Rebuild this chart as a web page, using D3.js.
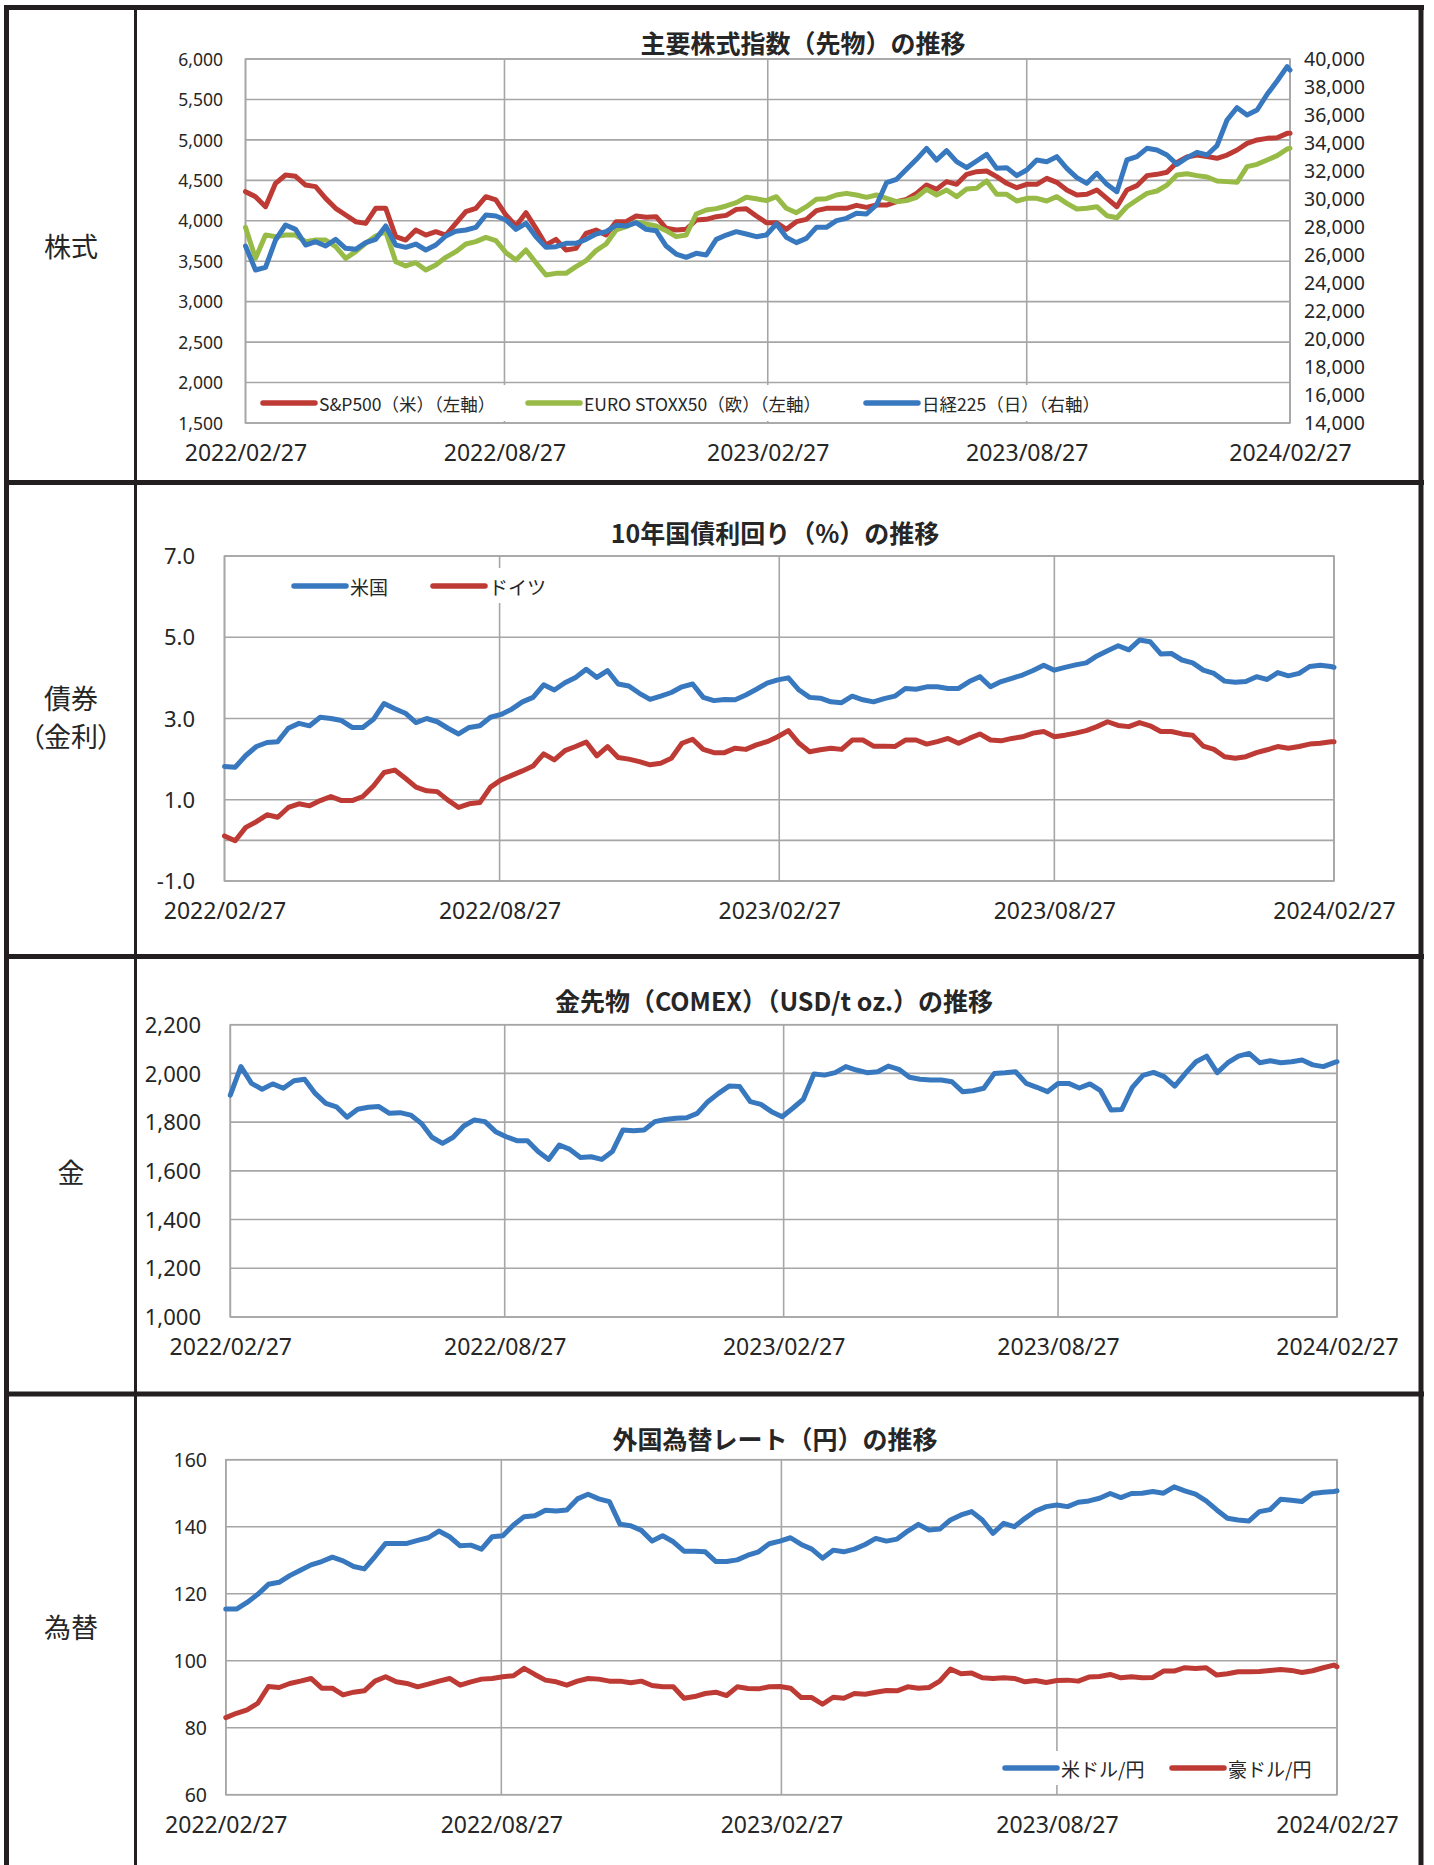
<!DOCTYPE html>
<html><head><meta charset="utf-8">
<script src="https://cdn.jsdelivr.net/npm/d3@7"></script>
<style>
html,body{margin:0;padding:0;background:#fff;}
svg{display:block;}
text{font-family:"Noto Sans CJK JP","Noto Sans",sans-serif;fill:#262626;}
.num{font-family:"Noto Sans","Noto Sans CJK JP",sans-serif;}
</style></head><body>
<svg id="chart" width="1434" height="1865"></svg>
<script>
// ---------------- DATA ----------------
const startDate = "2022/02/27";
const endDate = "2024/02/27";
const stepDays = 7; // weekly readings, last value at endDate
const xTickLabels = ["2022/02/27","2022/08/27","2023/02/27","2023/08/27","2024/02/27"];

const rowLabels = [["株式"],["債券","（金利）"],["金"],["為替"]];
const titles = ["主要株式指数（先物）の推移","10年国債利回り（%）の推移","金先物（COMEX）（USD/t oz.）の推移","外国為替レート（円）の推移"];

// Panel 1: stock index futures
const stockNames = ["S&P500（米）（左軸）","EURO STOXX50（欧）（左軸）","日経225（日）（右軸）"];
const sp500 = [4360,4298,4174,4463,4566,4550,4442,4422,4277,4154,
  4071,3989,3968,4154,4154,3804,3762,3886,3824,3865,
  3824,3968,4113,4154,4298,4257,4071,3935,4100,3906,
  3700,3770,3639,3659,3845,3886,3824,3989,3989,4059,
  4043,4051,3907,3886,3894,4010,4018,4051,4067,4141,
  4150,4059,3977,3977,3894,3989,4018,4125,4154,4154,
  4154,4191,4166,4195,4195,4236,4265,4339,4442,4389,
  4484,4451,4574,4607,4615,4545,4463,4409,4451,4451,
  4525,4475,4381,4319,4327,4381,4277,4174,4381,4434,
  4558,4574,4599,4722,4788,4813,4793,4772,4813,4875,
  4957,4999,5019,5027,5081,5081];
const stoxx50 = [3919,3536,3824,3804,3824,3824,3742,3762,3762,3680,
  3536,3618,3721,3812,3865,3494,3441,3482,3391,3453,
  3548,3618,3713,3742,3795,3754,3606,3515,3639,3482,
  3330,3350,3350,3433,3507,3631,3713,3886,3927,3985,
  3960,3935,3878,3804,3824,4084,4133,4150,4183,4224,
  4290,4273,4249,4298,4154,4100,4174,4265,4273,4319,
  4339,4319,4290,4319,4277,4236,4249,4290,4389,4319,
  4380,4298,4393,4401,4492,4327,4327,4245,4277,4277,
  4245,4298,4216,4146,4154,4174,4063,4038,4174,4257,
  4339,4368,4442,4566,4582,4558,4541,4492,4484,4475,
  4669,4698,4751,4805,4887,4896];
const nikkei225 = [26642,24928,25119,27071,28142,27833,26714,26952,26642,27119,
  26476,26404,26881,27119,28071,26714,26547,26785,26357,26714,
  27357,27690,27785,27976,28857,28785,28500,27833,28261,27309,
  26547,26595,26833,26833,27119,27500,27666,28119,28071,28309,
  27833,27738,26642,26071,25833,26119,26000,27119,27428,27666,
  27500,27309,27428,28214,27261,26881,27190,27976,27976,28452,
  28619,28976,28928,29571,31166,31404,32119,32833,33619,32785,
  33452,32667,32238,32714,33190,32190,32238,31667,32071,32786,
  32666,33024,32190,31524,31119,31833,31048,30524,32786,33024,
  33619,33500,33143,32476,32952,33333,33143,33809,35643,36524,
  36000,36357,37476,38428,39452,39214];
const stockLeftTicks = [1500,2000,2500,3000,3500,4000,4500,5000,5500,6000];
const stockRightTicks = [14000,16000,18000,20000,22000,24000,26000,28000,30000,32000,34000,36000,38000,40000];

// Panel 2: 10y government bond yields (%)
const bondNames = ["米国","ドイツ"];
const usYield = [1.82,1.80,2.09,2.31,2.41,2.43,2.76,2.88,2.82,3.03,
  3.00,2.95,2.78,2.78,2.98,3.37,3.24,3.13,2.90,3.00,
  2.92,2.76,2.62,2.78,2.82,3.03,3.10,3.23,3.41,3.52,
  3.83,3.70,3.88,4.01,4.21,4.01,4.18,3.85,3.80,3.62,
  3.47,3.55,3.64,3.78,3.85,3.52,3.44,3.47,3.46,3.58,
  3.72,3.87,3.95,4.00,3.70,3.52,3.50,3.41,3.39,3.55,
  3.46,3.41,3.49,3.55,3.74,3.72,3.78,3.78,3.74,3.74,
  3.91,4.03,3.78,3.91,3.99,4.07,4.18,4.31,4.19,4.26,
  4.32,4.37,4.54,4.67,4.79,4.69,4.93,4.89,4.59,4.60,
  4.44,4.37,4.19,4.11,3.92,3.89,3.91,4.03,3.96,4.13,
  4.05,4.11,4.28,4.31,4.28,4.26];
const deYield = [0.11,-0.01,0.32,0.46,0.63,0.57,0.81,0.90,0.85,0.98,
  1.08,0.98,0.98,1.08,1.34,1.67,1.73,1.53,1.31,1.22,
  1.20,0.99,0.81,0.90,0.93,1.31,1.49,1.60,1.71,1.83,
  2.13,1.98,2.21,2.31,2.42,2.08,2.31,2.04,2.00,1.94,
  1.86,1.90,2.02,2.39,2.49,2.24,2.16,2.16,2.27,2.24,
  2.35,2.43,2.55,2.70,2.39,2.18,2.23,2.27,2.24,2.47,
  2.47,2.32,2.32,2.31,2.47,2.47,2.37,2.43,2.51,2.39,
  2.51,2.62,2.47,2.45,2.51,2.55,2.64,2.68,2.55,2.59,
  2.64,2.70,2.80,2.92,2.83,2.80,2.90,2.82,2.68,2.68,
  2.62,2.59,2.32,2.24,2.06,2.02,2.06,2.16,2.23,2.31,
  2.27,2.31,2.37,2.39,2.43,2.43];
const bondTicks = [-1,1,3,5,7];

// Panel 3: gold futures
const gold = [1911,2028,1959,1935,1957,1939,1970,1976,1918,1877,
  1863,1820,1853,1861,1864,1836,1839,1829,1795,1738,
  1713,1738,1784,1809,1802,1761,1740,1724,1724,1679,
  1647,1706,1688,1655,1658,1647,1679,1768,1765,1768,
  1802,1811,1816,1818,1836,1884,1918,1948,1946,1884,
  1873,1843,1822,1857,1894,1998,1993,2003,2028,2014,
  2003,2007,2030,2017,1984,1976,1973,1973,1966,1925,
  1929,1939,2000,2003,2007,1959,1943,1925,1959,1959,
  1940,1957,1929,1850,1852,1943,1992,2004,1987,1948,
  2000,2048,2071,2003,2044,2071,2082,2044,2052,2044,
  2048,2055,2035,2028,2044,2048];
const goldTicks = [1000,1200,1400,1600,1800,2000,2200];

// Panel 4: FX rates
const fxNames = ["米ドル/円","豪ドル/円"];
const usdjpy = [115.4,115.4,117.4,119.8,122.8,123.4,125.4,127.0,128.6,129.6,
  130.9,129.8,128.1,127.4,131.1,135.0,135.0,135.0,135.9,136.7,
  138.7,137.0,134.3,134.5,133.3,137.0,137.3,140.5,143.0,143.3,
  144.9,144.7,145.0,148.3,149.7,148.3,147.5,140.7,140.3,138.9,
  135.7,137.3,135.5,132.7,132.7,132.5,129.6,129.6,130.1,131.5,
  132.5,134.9,135.7,136.7,134.7,133.3,130.6,133.0,132.5,133.3,
  134.7,136.5,135.7,136.3,138.7,140.7,139.0,139.3,142.0,143.5,
  144.5,142.0,138.0,141.0,140.0,142.5,144.7,146.0,146.5,146.0,
  147.3,147.7,148.5,149.9,148.7,149.9,150.0,150.5,150.0,151.9,
  150.7,149.7,147.7,145.0,142.5,142.0,141.7,144.5,145.1,148.2,
  147.9,147.5,149.9,150.3,150.5,150.7];
const audjpy = [83.0,84.3,85.3,87.3,92.3,92.0,93.2,93.9,94.7,91.8,
  91.8,89.8,90.6,91.0,93.9,95.2,93.7,93.2,92.2,93.0,
  93.9,94.7,92.7,93.7,94.5,94.7,95.2,95.5,97.7,95.9,
  94.2,93.7,92.7,93.9,94.7,94.5,93.9,93.9,93.4,93.9,
  92.6,92.2,92.2,88.8,89.3,90.2,90.6,89.6,92.2,91.7,
  91.6,92.2,92.3,91.8,89.0,89.0,87.0,89.1,88.8,90.2,
  90.0,90.6,91.1,91.0,92.2,91.8,92.0,93.9,97.5,96.1,
  96.3,94.9,94.7,94.9,94.7,93.7,94.1,93.5,94.1,94.2,
  93.9,95.1,95.3,95.9,94.9,95.2,94.9,95.0,96.9,96.9,
  97.9,97.7,97.9,95.7,96.1,96.7,96.7,96.8,97.1,97.4,
  97.1,96.5,97.0,97.9,98.7,98.2];
const fxTicks = [60,80,100,120,140,160];

// ---------------- RENDER ----------------
const BLUE = "#3878BF", RED = "#BE3B35", GREEN = "#98BB47";
const GRID = "#a6a6a6", BORDER = "#231f20";
const parse = d3.utcParse("%Y/%m/%d");
const t0 = parse(startDate), t1 = parse(endDate);
function withDates(vals){
  return vals.map((v,i)=>({date: i===vals.length-1 ? t1 : d3.utcDay.offset(t0, i*stepDays), v}));
}
const svg = d3.select("#chart");
svg.append("rect").attr("width",1434).attr("height",1865).attr("fill","#fff");

function panel(o){
  const g = svg.append("g");
  const x = d3.scaleUtc().domain([t0,t1]).range([o.left,o.right]);
  const y = d3.scaleLinear().domain(o.yDomain).range([o.bottom,o.top]);
  const hLines = o.gridValues || o.yTicks;
  g.selectAll(null).data(hLines).join("line")
    .attr("x1",o.left).attr("x2",o.right)
    .attr("y1",d=>y(d)).attr("y2",d=>y(d))
    .attr("stroke",GRID).attr("stroke-width",1.6);
  g.selectAll(null).data(xTickLabels.map(parse)).join("line")
    .attr("x1",d=>x(d)).attr("x2",d=>x(d))
    .attr("y1",o.top).attr("y2",o.bottom)
    .attr("stroke",GRID).attr("stroke-width",1.6);
  g.append("rect").attr("x",o.left).attr("y",o.top)
    .attr("width",o.right-o.left).attr("height",o.bottom-o.top)
    .attr("fill","none").attr("stroke",GRID).attr("stroke-width",1.6);
  o.series.forEach(s=>{
    const ys = s.right ? o.yRight : y;
    const line = d3.line().x(d=>x(d.date)).y(d=>ys(d.v)).curve(d3.curveLinear);
    g.append("path").datum(withDates(s.values))
      .attr("d",line).attr("fill","none").attr("stroke",s.color)
      .attr("stroke-width",5).attr("stroke-linejoin","round").attr("stroke-linecap","round");
  });
  const L = o.legend;
  if (L.items.length){
    g.append("rect").attr("x",L.box[0]).attr("y",L.box[1]).attr("width",L.box[2]).attr("height",L.box[3]).attr("fill","#fff");
    L.items.forEach((it,i)=>{
      g.append("line").attr("x1",it.x).attr("x2",it.x+52).attr("y1",L.y).attr("y2",L.y)
        .attr("stroke",o.series[i].color).attr("stroke-width",5.5).attr("stroke-linecap","round");
      g.append("text").attr("x",it.x+56).attr("y",L.y).attr("dominant-baseline","central")
        .attr("font-size",L.fs).text(it.name);
    });
  }
  const yAxis = d3.axisLeft(y).tickValues(o.yTicks).tickSize(0).tickFormat(o.yFormat);
  const ya = g.append("g").attr("transform",`translate(${o.yLabelX},0)`).call(yAxis);
  ya.select(".domain").remove();
  ya.selectAll("text").attr("font-size",o.yFs).attr("fill","#262626")
    .attr("x",0).attr("dy","0.35em").style("font-family",'"Noto Sans",sans-serif');
  if(o.yRight){
    const yr = d3.axisRight(o.yRight).tickValues(o.yRightTicks).tickSize(0).tickFormat(d3.format(","));
    const ra = g.append("g").attr("transform",`translate(${o.yRightLabelX},0)`).call(yr);
    ra.select(".domain").remove();
    ra.selectAll("text").attr("font-size",o.yRightFs).attr("fill","#262626")
      .attr("x",0).attr("dy","0.35em").style("font-family",'"Noto Sans",sans-serif');
  }
  const xAxis = d3.axisBottom(x).tickValues(xTickLabels.map(parse)).tickSize(0).tickFormat(d3.utcFormat("%Y/%m/%d"));
  const xa = g.append("g").attr("transform",`translate(0,${o.xLabelY})`).call(xAxis);
  xa.select(".domain").remove();
  xa.selectAll("text").attr("font-size",23).attr("fill","#262626").attr("y",0).attr("dy","0.35em")
    .style("font-family",'"Noto Sans",sans-serif');
  g.append("text").attr("x",o.titleX).attr("y",o.titleY).attr("text-anchor","middle")
    .attr("dominant-baseline","central").attr("font-size",25).attr("font-weight",700).text(o.title);
}

// Panel 1
const yRight1 = d3.scaleLinear().domain([14000,40000]).range([423,59]);
panel({left:245.5,right:1290,top:59,bottom:423,yDomain:[1500,6000],yTicks:stockLeftTicks,
  yFormat:d3.format(","),yLabelX:223,yFs:17.5,
  yRight:yRight1,yRightTicks:stockRightTicks,yRightLabelX:1304,yRightFs:19.5,
  xLabelY:453,title:titles[0],titleX:803,titleY:42,
  series:[{values:sp500,color:RED},{values:stoxx50,color:GREEN},{values:nikkei225,color:BLUE,right:true}],
  legend:{y:403,fs:17.5,box:[252,385,866,36],items:[{x:263,name:stockNames[0]},{x:528,name:stockNames[1]},{x:866,name:stockNames[2]}]}
});
// Panel 2
panel({left:224.5,right:1334,top:556,bottom:881,yDomain:[-1,7],yTicks:bondTicks,gridValues:[-1,0,1,3,5,7],
  yFormat:d=>d.toFixed(1),yLabelX:195,yFs:22,
  xLabelY:910.5,title:titles[1],titleX:775,titleY:532,
  series:[{values:usYield,color:BLUE},{values:deYield,color:RED}],
  legend:{y:586,fs:19,box:[286,568,260,35],items:[{x:294,name:bondNames[0]},{x:433,name:bondNames[1]}]}
});
// Panel 3
panel({left:230.3,right:1337,top:1024.7,bottom:1317,yDomain:[1000,2200],yTicks:goldTicks,
  yFormat:d3.format(","),yLabelX:201,yFs:22,
  xLabelY:1347,title:titles[2],titleX:774,titleY:1000,
  series:[{values:gold,color:BLUE}],
  legend:{y:0,fs:0,box:[0,0,0,0],items:[]}
});
// Panel 4
panel({left:225.8,right:1337,top:1459.7,bottom:1794.7,yDomain:[60,160],yTicks:fxTicks,
  yFormat:d3.format("d"),yLabelX:207,yFs:19.5,
  xLabelY:1825,title:titles[3],titleX:775,titleY:1438,
  series:[{values:usdjpy,color:BLUE},{values:audjpy,color:RED}],
  legend:{y:1768,fs:19,box:[997,1751,325,34],items:[{x:1005,name:fxNames[0]},{x:1172,name:fxNames[1]}]}
});

// Table frame
const frame = svg.append("g").attr("stroke",BORDER).attr("fill","none");
frame.append("line").attr("x1",4).attr("x2",1424).attr("y1",7.5).attr("y2",7.5).attr("stroke-width",5);
frame.append("line").attr("x1",6.5).attr("x2",6.5).attr("y1",5).attr("y2",1865).attr("stroke-width",5);
frame.append("line").attr("x1",1421).attr("x2",1421).attr("y1",5).attr("y2",1865).attr("stroke-width",5);
frame.append("line").attr("x1",135.5).attr("x2",135.5).attr("y1",5).attr("y2",1865).attr("stroke-width",3);
[482.5,956.5,1394].forEach(yy=>frame.append("line").attr("x1",4).attr("x2",1424).attr("y1",yy).attr("y2",yy).attr("stroke-width",5));

// Row labels
const labelY = [[245],[697,735],[1171],[1626]];
rowLabels.forEach((lines,i)=>{
  lines.forEach((t,j)=>{
    svg.append("text").attr("x",71).attr("y",labelY[i][j]).attr("text-anchor","middle")
      .attr("dominant-baseline","central").attr("font-size",27)
      .style("font-feature-settings",'"palt"').text(t);
  });
});
</script>
</body></html>
